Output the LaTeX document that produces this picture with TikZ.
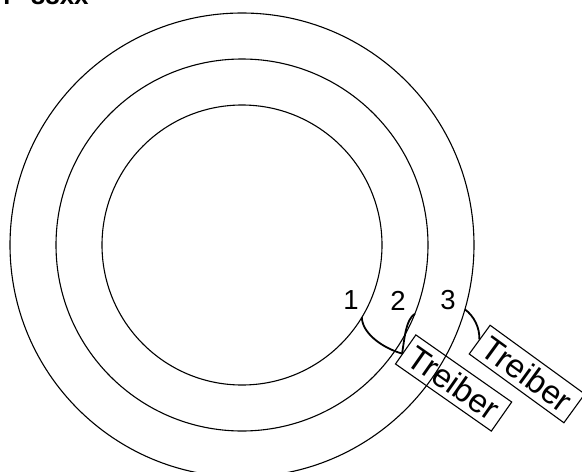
\documentclass[tikz,border=0pt]{standalone}
\usepackage{fontspec}
\setmainfont{Liberation Sans}
\usetikzlibrary{calc}
\begin{document}
\begin{tikzpicture}[x=1pt,y=-1pt,
  ring/.style={line width=1.1pt},
  wire/.style={line width=1.8pt},
  numlabel/.style={font=\fontsize{27.5}{30}\selectfont, inner sep=0pt},
  treiberbox/.style={draw, line width=1.1pt, font=\fontsize{33}{36}\selectfont,
    minimum width=117pt, minimum height=35.5pt, inner sep=0pt}]
\useasboundingbox (0,0) rectangle (582,472);
\node[anchor=base west, inner sep=0pt, font=\bfseries\fontsize{26}{30}\selectfont] (title) at (-5.7,4) {n\hspace{20.5pt}88xx};
\coordinate (c) at (242,245);
\draw[ring] (c) circle[radius=140];
\draw[ring] (c) circle[radius=186];
\draw[ring] (c) circle[radius=232];
\coordinate (p1) at ($(c)+(31.1:140)$);
\coordinate (p2) at ($(c)+(21.7:186)$);
\coordinate (p3) at ($(c)+(16.1:232)$);
\node[numlabel] (n1) at (351,300) {1};
\node[numlabel] (n2) at (398,300.5) {2};
\node[numlabel] (n3) at (448,300.5) {3};
\node[treiberbox, rotate=-35] (b1) at (453.6,383) {Treiber};
\node[treiberbox, rotate=-36] (b2) at (527,374) {Treiber};
\coordinate (e1) at ($(b1.south west)!0.35!(b1.north west)$);
\draw[wire] (p1) .. controls (362,332) and (380,347) .. (e1);
\draw[wire] (p2) .. controls (406,320) and (405,335) .. (e1);
\draw[wire] (p3) .. controls (474,316) and (480,328) .. (b2.west);
\end{tikzpicture}
\end{document}
